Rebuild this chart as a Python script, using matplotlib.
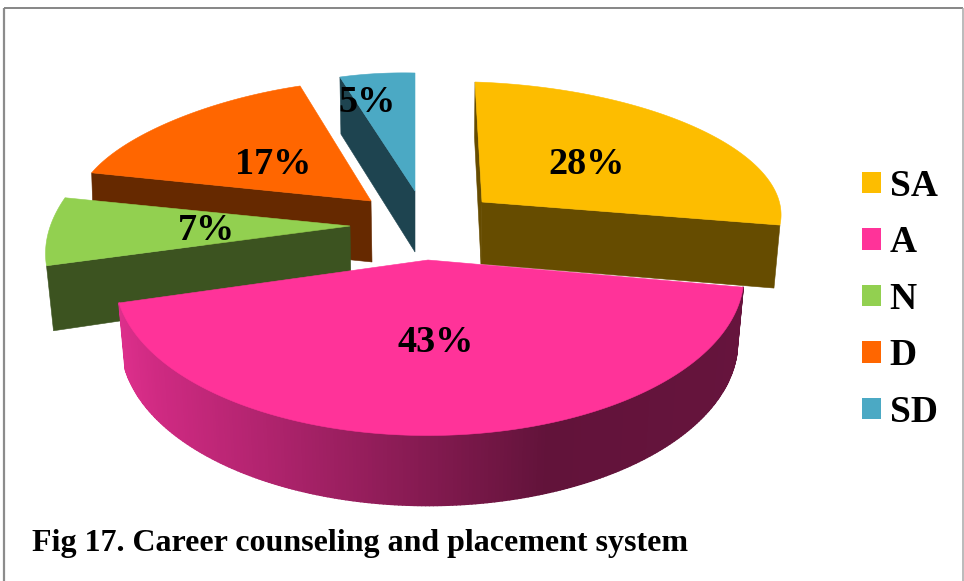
import numpy as np
import matplotlib
matplotlib.use("Agg")
import matplotlib.pyplot as plt
from matplotlib.patches import Polygon, Patch
from matplotlib.collections import PolyCollection
from matplotlib.colors import to_rgb

# ---- data ----
categories = ["SA", "A", "N", "D", "SD"]
shares = [28, 43, 7, 17, 5]
title = "Fig 17. Career counseling and placement system"

# ---- styles ----
top_colors = ["#FDBD00", "#FF3399", "#92D050", "#FF6600", "#4BA9C4"]
side_colors = ["#664C00", "#66143D", "#3C5320", "#662900", "#1E4450"]
label_pos = [(587, 165), (436, 343), (206, 230), (273, 164), (367.5, 103)]
draw_order = ["SD", "D", "N", "SA", "A"]

# per-slice projection of the exploded 3-D pie (pixel space):
# apex, x = ax*sin + bx*cos, y = ay*sin + by*cos, sag, end-face depth offsets
geom = {
    "SA": dict(apex=(482, 202), ax=302, bx=-7, ay=0.6, by=-120, sag=-0.045,
               off_a=(-1, 62), off_o=(-6, 63)),
    "A": dict(apex=(428, 260), ax=320, bx=-4, ay=-3, by=-161, sag=0.09,
              off_a=(0, 66), off_o=(-5, 66)),
    "N": dict(apex=(350, 226), ax=300, bx=52, ay=-1, by=-156, sag=0.0,
              off_a=(1, 61), off_o=(7, 65)),
    "D": dict(apex=(371, 201), ax=288, bx=19, ay=6, by=-119, sag=-0.03,
              off_a=(1, 61), off_o=(2, 61)),
    "SD": dict(apex=(415, 191), ax=243, bx=0, ay=5.6, by=-118, sag=0.0,
               off_a=(0, 61), off_o=(1, 57)),
}

W, H = 964, 581
fig = plt.figure(figsize=(W / 100, H / 100), dpi=100)
ax = fig.add_axes([0, 0, 1, 1])
ax.set_xlim(0, W)
ax.set_ylim(H, 0)
ax.axis("off")
SERIF = "Liberation Serif"

# frame
ax.plot([4, 4], [8, H], color="#8C8C8C", lw=1.6, solid_capstyle="butt")
ax.plot([4, 963], [8, 8], color="#868686", lw=1.4, solid_capstyle="butt")
ax.plot([963, 963], [8, H], color="#A8A8A8", lw=1.1, solid_capstyle="butt")

# angles from the values
fractions = np.array(shares, dtype=float) / sum(shares) * 2 * np.pi
ends = np.cumsum(fractions)
starts = ends - fractions


def arc(g, t0, t1, n=240):
    th = np.linspace(t0, t1, n)
    u = (th - t0) / (t1 - t0)
    scale = 1 + g["sag"] * np.sin(np.pi * u)
    x = g["apex"][0] + (g["ax"] * np.sin(th) + g["bx"] * np.cos(th)) * scale
    y = g["apex"][1] + (g["ay"] * np.sin(th) + g["by"] * np.cos(th)) * scale
    return x, y, u


def add_slice(name, z):
    i = categories.index(name)
    g = geom[name]
    x, y, u = arc(g, starts[i], ends[i])
    pts = np.column_stack([x, y])
    apex = np.array(g["apex"], float)
    if name == "A":
        # rounded outer wall with left-to-right shading
        bx = apex[0] + (x - apex[0]) * 0.98
        by = y + 66 + 4 * np.sin(np.pi * u)
        knots = [125, 160, 545, 745]
        cols = np.array([to_rgb(c) for c in ["#DC2F8B", "#CF2A82", "#62133A", "#66143D"]])
        polys, colors = [], []
        for k in range(len(x) - 1):
            polys.append([(x[k], y[k]), (x[k + 1], y[k + 1]), (bx[k + 1], by[k + 1]), (bx[k], by[k])])
            xm = (bx[k] + bx[k + 1]) / 2
            colors.append([np.interp(xm, knots, cols[:, c]) for c in range(3)])
        ax.add_collection(PolyCollection(polys, facecolors=colors, edgecolors=colors,
                                         linewidths=1.2, zorder=z))
    else:
        # flat cut face joining the apex and the rim
        outer = pts[-1] if name == "SA" else pts[0]
        ax.add_patch(Polygon([apex, outer, outer + g["off_o"], apex + g["off_a"]],
                             closed=True, fc=side_colors[i], ec=side_colors[i], lw=0.4, zorder=z))
        if name == "SA":
            ax.add_patch(Polygon([pts[0], apex, apex + g["off_a"], pts[0] + (-0.5, 55)],
                                 closed=True, fc=side_colors[i], ec=side_colors[i], lw=0.4, zorder=z))
    ax.add_patch(Polygon(np.vstack([apex, pts]), closed=True, fc=top_colors[i],
                         ec=top_colors[i], lw=0.4, zorder=z + 0.5))


for z, name in enumerate(draw_order):
    add_slice(name, z + 2)

for i, s in enumerate(shares):
    ax.text(label_pos[i][0], label_pos[i][1], f"{s}%", family=SERIF, weight="bold",
            fontsize=27.5, ha="center", va="center", color="black", zorder=20)

handles = [Patch(fc=c, ec="none") for c in top_colors]
leg = ax.legend(handles, categories, loc="upper left", bbox_to_anchor=(862 / W, 1 - 169 / H),
                bbox_transform=fig.transFigure, frameon=False, borderpad=0, borderaxespad=0,
                handlelength=0.5, handleheight=0.5, handletextpad=0.24, labelspacing=0.57,
                prop=dict(family=SERIF, weight="bold", size=27))
leg.set_zorder(20)

ax.text(32, 543, title, family=SERIF, weight="bold", fontsize=23, ha="left",
        va="center", color="black", zorder=20)

fig.savefig("out.png", dpi=100)
